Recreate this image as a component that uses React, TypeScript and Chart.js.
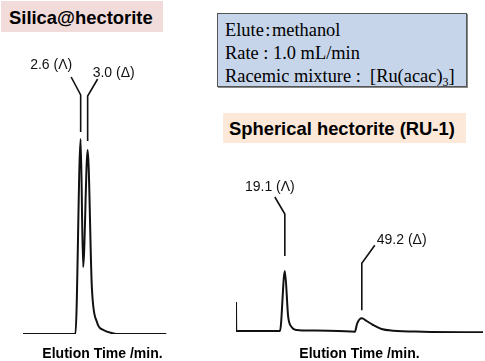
import React, { useEffect, useRef } from "react";
import { Chart, registerables } from "chart.js";

Chart.register(...registerables);

// ---- Silica@hectorite chromatogram (time in min, signal in a.u.) ----
const silicaTime = [-0.7, 2.3, 2.6, 2.74, 3.0, 3.24, 3.53, 3.9, 4.48, 4.8, 7.5];
const silicaSignal = [0, 0, 97.5, 33.5, 92, 23.5, 6, 2, 0.3, 0, 0];
const silicaPeakTime = [2.6, 3.0];
const silicaPeakLabel = ["2.6 (Λ)", "3.0 (Δ)"];

// ---- Spherical hectorite (RU-1) chromatogram ----
const ruTime = [0, 0.1, 17.2, 19.1, 20.4, 21.8, 23.7, 30, 40, 46.5, 47.4, 49.2, 51.1, 53.6, 56.9, 61.4, 73.2, 96.6];
const ruSignal = [14.5, 0, 0, 30, 7.2, 1.9, 0.5, 0.2, 0, -0.35, 3.85, 6.35, 5, 3, 1, 0.15, -0.35, -0.65];
const ruPeakTime = [19.1, 49.2];
const ruPeakLabel = ["19.1 (Λ)", "49.2 (Δ)"];

const xAxisTitle = "Elution Time /min.";
const silicaTitle = "Silica@hectorite";
const ruTitle = "Spherical hectorite (RU-1)";
const conditionLines = ["Elute\u200A:\u200Amethanol", "Rate : 1.0 mL/min", "Racemic mixture : \u00A0[Ru(acac)"];
const conditionSub = "3";

const SANS = "'Liberation Sans', Arial, sans-serif";
const SERIF = "'Liberation Serif', 'Times New Roman', serif";

type MarkStyle = { gap: number; len: number; dx: number; dy: number; align: CanvasTextAlign; tdx: number; tdy: number };

function makePeakMarks(times: number[], labels: string[], styles: MarkStyle[]) {
  return {
    id: "peakMarks",
    afterDatasetsDraw(chart: any) {
      const { ctx } = chart;
      const xs = chart.scales.x;
      const ys = chart.scales.y;
      const data = chart.data.datasets[0].data as { x: number; y: number }[];
      ctx.save();
      ctx.strokeStyle = "#111";
      ctx.fillStyle = "#111";
      ctx.lineWidth = 1.6;
      ctx.font = `14px ${SANS}`;
      times.forEach((t, i) => {
        let best = data[0];
        for (const p of data) if (Math.abs(p.x - t) < Math.abs(best.x - t)) best = p;
        const px = xs.getPixelForValue(t);
        const py = ys.getPixelForValue(best.y);
        const s = styles[i];
        const y0 = py - s.gap;
        const y1 = y0 - s.len;
        const ex = px + s.dx;
        const ey = y1 + s.dy;
        ctx.beginPath();
        ctx.moveTo(px, y0);
        ctx.lineTo(px, y1);
        ctx.lineTo(ex, ey);
        ctx.stroke();
        ctx.textAlign = s.align;
        ctx.textBaseline = "middle";
        ctx.fillText(labels[i], ex + s.tdx, ey + s.tdy);
      });
      ctx.restore();
    },
  };
}

function makeConfig(
  times: number[],
  signal: number[],
  xMin: number,
  xMax: number,
  yMin: number,
  yMax: number,
  padding: { left: number; right: number; top: number; bottom: number },
  titlePadTop: number,
  plugin: any
): any {
  return {
    type: "line",
    data: {
      datasets: [
        {
          data: times.map((t, i) => ({ x: t, y: signal[i] })),
          borderColor: "#111",
          borderWidth: 2,
          pointRadius: 0,
          fill: false,
          cubicInterpolationMode: "monotone",
        },
      ],
    },
    options: {
      responsive: false,
      animation: false,
      layout: { padding },
      plugins: { legend: { display: false }, tooltip: { enabled: false } },
      scales: {
        x: {
          type: "linear",
          min: xMin,
          max: xMax,
          grid: { display: false, drawTicks: false },
          border: { display: false },
          ticks: { display: false },
          title: {
            display: true,
            text: xAxisTitle,
            color: "#000",
            font: { family: SANS, size: 14, weight: "bold", lineHeight: 1 },
            padding: { top: titlePadTop, bottom: 0 },
          },
        },
        y: { display: false, min: yMin, max: yMax },
      },
    },
    plugins: [plugin],
  };
}

export default function App() {
  const leftRef = useRef<HTMLCanvasElement>(null);
  const rightRef = useRef<HTMLCanvasElement>(null);

  useEffect(() => {
    document.body.style.margin = "0";
    const left = new Chart(
      leftRef.current!,
      makeConfig(
        silicaTime,
        silicaSignal,
        -0.7,
        8.4,
        0,
        100,
        { left: 23, right: 303, top: 134, bottom: 0 },
        13,
        makePeakMarks(silicaPeakTime, silicaPeakLabel, [
          { gap: 7, len: 37, dx: -9.5, dy: -18, align: "right", tdx: 1, tdy: -12 },
          { gap: 9, len: 45, dx: 10, dy: -17, align: "left", tdx: -5, tdy: -6 },
        ])
      )
    );
    const right = new Chart(
      rightRef.current!,
      makeConfig(
        ruTime,
        ruSignal,
        0,
        96.6,
        -1,
        100,
        { left: 236, right: 2, top: 131, bottom: 0 },
        14,
        makePeakMarks(ruPeakTime, ruPeakLabel, [
          { gap: 15, len: 42, dx: -10, dy: -17, align: "center", tdx: -5, tdy: -10 },
          { gap: 8, len: 47, dx: 13, dy: -18, align: "left", tdx: 2, tdy: -5 },
        ])
      )
    );
    return () => {
      left.destroy();
      right.destroy();
    };
  }, []);

  const sansTitle: React.CSSProperties = {
    position: "absolute",
    fontFamily: SANS,
    fontWeight: "bold",
    fontSize: "18.4px",
    lineHeight: "18.4px",
    color: "#000",
    whiteSpace: "nowrap",
  };
  const serifLine: React.CSSProperties = {
    position: "absolute",
    left: 225,
    fontFamily: SERIF,
    fontSize: "18.4px",
    lineHeight: "18.4px",
    color: "#000",
    whiteSpace: "nowrap",
  };

  return (
    <div style={{ position: "relative", width: 485, height: 361, background: "#fff", overflow: "hidden" }}>
      <div style={{ position: "absolute", left: 1, top: 1, width: 162, height: 31, background: "#f2dcdb" }} />
      <div style={{ ...sansTitle, left: 9, top: 9.4 }}>{silicaTitle}</div>

      <div
        style={{
          position: "absolute",
          left: 217,
          top: 13,
          width: 250,
          height: 74,
          boxSizing: "border-box",
          background: "#c6d5e9",
          border: "1.5px solid #555",
          boxShadow: "1px 1px 0 #888",
        }}
      />
      <div style={{ ...serifLine, top: 20.6 }}>{conditionLines[0]}</div>
      <div style={{ ...serifLine, top: 43.6 }}>{conditionLines[1]}</div>
      <div style={{ ...serifLine, top: 66.6 }}>
        {conditionLines[2]}
        <sub style={{ fontSize: "12px", verticalAlign: "-4px", lineHeight: 0 }}>{conditionSub}</sub>]
      </div>

      <div style={{ position: "absolute", left: 223, top: 113, width: 243, height: 30, background: "#fde9d9" }} />
      <div style={{ ...sansTitle, left: 229, top: 120.4 }}>{ruTitle}</div>

      <canvas ref={leftRef} width={485} height={361} style={{ position: "absolute", left: 0, top: 0 }} />
      <canvas ref={rightRef} width={485} height={361} style={{ position: "absolute", left: 0, top: 0 }} />
    </div>
  );
}
